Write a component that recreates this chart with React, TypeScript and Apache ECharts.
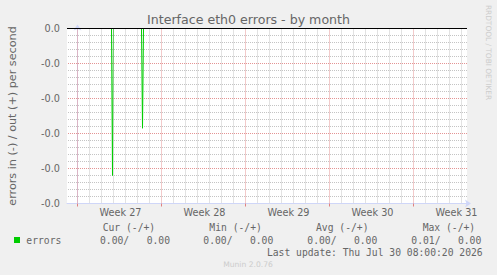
import React, { useEffect, useRef } from "react";
import * as echarts from "echarts";

// Time axis in hours, relative to Monday 00:00 of Week 27
const xMin = -21;
const xMax = 779;
const weekLabels = ["Week 27", "Week 28", "Week 29", "Week 30", "Week 31"];
const weekStartHours = [0, 168, 336, 504, 672];
const weekLabelOffset = 86;
const dayOffsets = [24, 48, 72, 96, 120, 144];

// errors "in" (plotted negative): spikes
const spikeHours = [70, 130];
const spikeValues = [-0.0084, -0.0057];

// y axis
const yMin = -0.01;
const yMax = 0;
const yInterval = 0.002;
const yMinorInterval = 0.0004;
const yMinorPerMajor = 5;

// legend
const legendHeaders = ["Cur (-/+)", "Min (-/+)", "Avg (-/+)", "Max (-/+)"];
const legendIn = ["0.00", "0.00", "0.00", "0.01"];
const legendOut = ["0.00", "0.00", "0.00", "0.00"];
const headerX = [102.7, 209.3, 316, 422.7];
const valueX = [100, 203.3, 307.3, 411.3];

const FONT = "DejaVu Sans";
const MONO = "DejaVu Sans Mono";
const TXT = "#666666";
const MINOR = "#C4C4C4";
const MAJOR = "#E49494";

const GRID = { left: 67, top: 28.5, width: 400, height: 175 };

export default function App() {
  const ref = useRef<HTMLDivElement>(null);
  useEffect(() => {
    if (!ref.current) return;
    const chart = echarts.init(ref.current, undefined, { renderer: "svg" });

    const inData: number[][] = [[xMin, 0]];
    spikeHours.forEach((h, i) => {
      inData.push([h - 2, 0], [h, spikeValues[i]], [h + 2, 0]);
    });
    inData.push([xMax, 0]);

    const minorDays: number[] = [];
    weekStartHours.forEach((w) => dayOffsets.forEach((d) => {
      if (w + d < xMax) minorDays.push(w + d);
    }));

    // cycle colours so the minor axis leaves out the major positions
    const minorColors: string[] = [];
    for (let i = 0; i < yMinorPerMajor; i++) minorColors.push(i === 0 ? "rgba(0,0,0,0)" : MINOR);

    const helperData = [[xMin, yMin], [xMax, yMin]];
    const helper = (lines: any[], color: string) => ({
      type: "line",
      data: helperData,
      silent: true,
      showSymbol: false,
      symbol: "none",
      lineStyle: { opacity: 0 },
      z: 1,
      markLine: {
        silent: true,
        symbol: ["none", "none"],
        label: { show: false },
        lineStyle: { color, type: [1, 1], width: 1, dashOffset: 0.5 },
        data: lines,
      },
    });

    const headerTexts = legendHeaders.map((t, i) => ({
      type: "text",
      x: headerX[i],
      y: 227,
      style: { text: t, fill: TXT, fontFamily: MONO, fontSize: 9.7, align: "left", verticalAlign: "middle" },
    }));
    const valueTexts = legendIn.map((v, i) => ({
      type: "text",
      x: valueX[i],
      y: 240,
      style: { text: `${v}/   ${legendOut[i]}`, fill: TXT, fontFamily: MONO, fontSize: 9.7, align: "left", verticalAlign: "middle" },
    }));

    chart.setOption({
      animation: false,
      backgroundColor: "#F0F0F0",
      grid: {
        left: GRID.left,
        top: GRID.top,
        width: GRID.width,
        height: GRID.height,
        show: false,
      },
      xAxis: {
        type: "value",
        min: xMin,
        max: xMax,
        z: 3,
        axisLine: {
          show: true,
          onZero: false,
          lineStyle: { color: "#CFD6F8", width: 1 },
          symbol: ["none", "arrow"],
          symbolSize: [6, 6],
          symbolOffset: [0, 4],
        },
        axisTick: {
          show: true,
          customValues: weekStartHours,
          length: 3,
          lineStyle: { color: "#E08080" },
        },
        axisLabel: {
          show: true,
          customValues: weekStartHours.map((w) => w + weekLabelOffset),
          formatter: (v: number) => weekLabels[weekStartHours.indexOf(v - weekLabelOffset)] ?? "",
          color: TXT,
          fontFamily: FONT,
          fontSize: 9.7,
          margin: 4,
        },
        splitLine: { show: false },
      },
      yAxis: [
        {
          type: "value",
          min: yMin,
          max: yMax,
          interval: yInterval,
          z: 2,
          axisLine: {
            show: true,
            lineStyle: { color: "#CFD6F8", width: 1 },
            symbol: ["none", "arrow"],
            symbolSize: [6, 6],
            symbolOffset: [0, 4],
          },
          axisTick: { show: false },
          axisLabel: {
            formatter: (v: number) => v.toFixed(1),
            color: TXT,
            fontFamily: FONT,
            fontSize: 9.7,
            margin: 7,
          },
          splitLine: { show: true, lineStyle: { color: MAJOR, type: [1, 1], width: 1, dashOffset: 0.5 } },
        },
        {
          type: "value",
          min: yMin,
          max: yMax,
          interval: yMinorInterval,
          z: 1,
          axisLine: { show: false },
          axisTick: { show: false },
          axisLabel: { show: false },
          splitLine: { show: true, lineStyle: { color: minorColors, type: [1, 1], width: 1, dashOffset: 0.5 } },
        },
      ],
      series: [
        helper(minorDays.map((h) => ({ xAxis: h })), MINOR),
        helper(weekStartHours.map((h) => ({ xAxis: h })), MAJOR),
        {
          name: "errors",
          type: "line",
          data: inData,
          showSymbol: false,
          symbol: "none",
          lineStyle: { color: "#00CC00", width: 1 },
          itemStyle: { color: "#00CC00" },
          z: 4,
          markLine: {
            silent: true,
            symbol: ["none", "none"],
            label: { show: false },
            lineStyle: { color: "#000000", type: "solid", width: 1 },
            data: [{ yAxis: 0 }],
          },
        },
      ],
      graphic: [
        {
          type: "rect",
          z: -10,
          shape: { x: GRID.left, y: GRID.top - 0.5, width: GRID.width, height: GRID.height },
          style: { fill: "#FFFFFF" },
        },
        {
          type: "text",
          x: 248.5,
          y: 19.5,
          style: { text: "Interface eth0 errors - by month", fill: TXT, fontFamily: FONT, fontSize: 12.6, align: "center", verticalAlign: "middle" },
        },
        {
          type: "text",
          x: 12,
          y: 116,
          rotation: Math.PI / 2,
          style: { text: "errors in (-) / out (+) per second", fill: TXT, fontFamily: FONT, fontSize: 11.2, align: "center", verticalAlign: "middle" },
        },
        {
          type: "text",
          x: 488,
          y: 52.5,
          rotation: -Math.PI / 2,
          style: { text: "RRDTOOL / TOBI OETIKER", fill: "#CCCCCC", fontFamily: FONT, fontSize: 7.4, align: "center", verticalAlign: "middle" },
        },
        {
          type: "rect",
          shape: { x: 14, y: 237, width: 6, height: 6 },
          style: { fill: "#00CC00" },
        },
        {
          type: "text",
          x: 26.3,
          y: 240,
          style: { text: "errors", fill: TXT, fontFamily: MONO, fontSize: 9.7, align: "left", verticalAlign: "middle" },
        },
        ...headerTexts,
        ...valueTexts,
        {
          type: "text",
          x: 482.7,
          y: 252,
          style: { text: "Last update: Thu Jul 30 08:00:20 2026", fill: TXT, fontFamily: MONO, fontSize: 9.7, align: "right", verticalAlign: "middle" },
        },
        {
          type: "text",
          x: 248,
          y: 264,
          style: { text: "Munin 2.0.76", fill: "#CCCCCC", fontFamily: FONT, fontSize: 7.6, align: "center", verticalAlign: "middle" },
        },
      ],
    });
    return () => chart.dispose();
  }, []);
  return <div ref={ref} style={{ position: "fixed", left: 0, top: 0, width: 497, height: 275 }} />;
}
